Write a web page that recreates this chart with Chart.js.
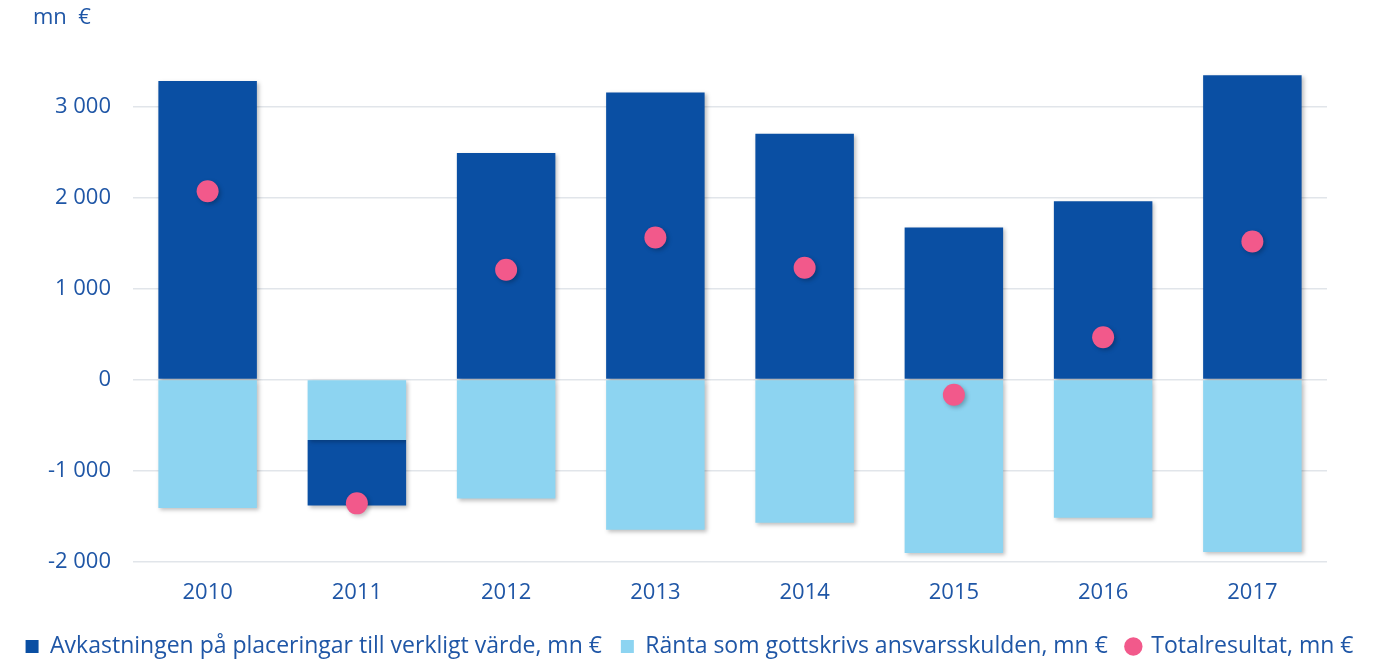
<!DOCTYPE html>
<html>
<head>
<meta charset="utf-8">
<script src="https://cdn.jsdelivr.net/npm/chart.js@4/dist/chart.umd.min.js"></script>
<style>
	html, body { margin: 0; padding: 0; background: #fff; }
	#wrap { width: 1379px; height: 660px; }
</style>
</head>
<body>
<div id="wrap"><canvas id="main"></canvas></div>
<script>
var years = ['2010', '2011', '2012', '2013', '2014', '2015', '2016', '2017'];
var avkastning = [3280, -720, 2490, 3155, 2700, 1672, 1960, 3344];
var ranta = [-1410, -665, -1307, -1650, -1572, -1905, -1517, -1894];
var totalresultat = [2070, -1360, 1207, 1561, 1229, -166, 465, 1517];
var yTicks = [-2000, -1000, 0, 1000, 2000, 3000];

var labelAvk = 'Avkastningen på placeringar till verkligt värde, mn €';
var labelRanta = 'Ränta som gottskrivs ansvarsskulden, mn €';
var labelTotal = 'Totalresultat, mn €';
var unitText = 'mn  €';

var textColor = '#1f56a6';
var fontFamily = '"Open Sans", "Noto Sans", sans-serif';

function fmt(v){
	var s = String(Math.abs(v)).replace(/\B(?=(\d{3})+(?!\d))/g, ' ');
	return (v < 0 ? '-' : '') + s;
}

// soft drop shadow under the bars and dots
var shadowPlugin = {
	id: 'shadow',
	beforeDatasetsDraw: function(chart){
		var ctx = chart.ctx;
		ctx.save();
		ctx.shadowColor = 'rgba(0,0,0,0.25)';
		ctx.shadowBlur = 4;
		ctx.shadowOffsetX = 2;
		ctx.shadowOffsetY = 2;
	},
	afterDatasetsDraw: function(chart){
		chart.ctx.restore();
	}
};

// unit label in the top left corner
var unitPlugin = {
	id: 'unit',
	afterDraw: function(chart){
		var ctx = chart.ctx;
		ctx.save();
		ctx.fillStyle = textColor;
		ctx.font = '22px ' + fontFamily;
		ctx.textBaseline = 'middle';
		ctx.fillText(unitText, 33, 18);
		ctx.restore();
	}
};

var legendRank = {1: 0, 0: 1, 2: 2};

var ctx = document.getElementById('main').getContext('2d');
var chart = new Chart(ctx, {
	type: 'bar',
	data: {
		labels: years,
		datasets: [
			{
				label: labelRanta,
				data: ranta,
				backgroundColor: '#8dd4f1',
				pointStyle: 'rect',
				categoryPercentage: 0.66,
				barPercentage: 1
			},
			{
				label: labelAvk,
				data: avkastning,
				backgroundColor: '#0a4fa3',
				pointStyle: 'rect',
				categoryPercentage: 0.66,
				barPercentage: 1
			},
			{
				type: 'line',
				label: labelTotal,
				data: totalresultat,
				order: -1,
				showLine: false,
				pointStyle: 'circle',
				pointRadius: 11,
				pointHoverRadius: 11,
				pointBackgroundColor: '#f2598b',
				pointBorderWidth: 0,
				backgroundColor: '#f2598b',
				borderColor: '#f2598b'
			}
		]
	},
	options: {
		responsive: true,
		maintainAspectRatio: false,
		animation: false,
		layout: { padding: { left: 0, right: 0, top: 61, bottom: -8 } },
		plugins: {
			legend: {
				position: 'bottom',
				labels: {
					usePointStyle: true,
					boxWidth: 13,
					boxHeight: 13,
					padding: 19,
					color: textColor,
					font: { family: fontFamily, size: 23 },
					sort: function(a, b){
						return legendRank[a.datasetIndex] - legendRank[b.datasetIndex];
					}
				}
			},
			tooltip: { enabled: false }
		},
		scales: {
			x: {
				stacked: true,
				grid: { display: false },
				border: { display: false },
				ticks: {
					color: textColor,
					font: { family: fontFamily, size: 22 },
					padding: 10
				}
			},
			y: {
				stacked: true,
				min: -2000,
				max: 3500,
				afterFit: function(axis){ axis.width = 133; },
				afterBuildTicks: function(axis){
					axis.ticks = yTicks.map(function(v){ return {value: v}; });
				},
				grid: { color: '#e1e5ea', lineWidth: 1.5, drawTicks: false },
				border: { display: false },
				ticks: {
					color: textColor,
					font: { family: fontFamily, size: 22 },
					padding: 22,
					callback: function(v){ return fmt(v); }
				}
			},
			// empty axis on the right, only to keep the gap after the plot
			yRight: {
				position: 'right',
				min: -2000,
				max: 3500,
				afterFit: function(axis){ axis.width = 52; },
				grid: { display: false },
				border: { display: false },
				ticks: { display: false }
			}
		}
	},
	plugins: [shadowPlugin, unitPlugin]
});
</script>
</body>
</html>
